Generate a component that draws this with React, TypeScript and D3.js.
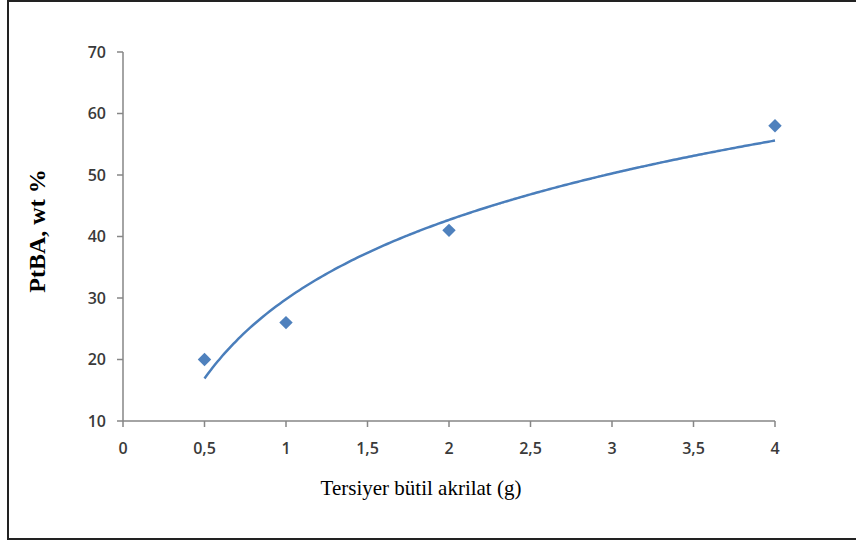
import React from "react";
import * as d3 from "d3";

const xValues = [0.5, 1, 2, 4];
const yValues = [20, 26, 41, 58];
const xTicks = [0, 0.5, 1, 1.5, 2, 2.5, 3, 3.5, 4];
const yTicks = [10, 20, 30, 40, 50, 60, 70];
const xTitle = "Tersiyer bütil akrilat (g)";
const yTitle = "PtBA, wt %";

const W = 856;
const H = 542;

export default function App() {
  const x = d3.scaleLinear().domain([0, 4]).range([123, 775]);
  const y = d3.scaleLinear().domain([10, 70]).range([421, 52]);

  // logarithmic least-squares trendline computed from the data
  const lx = xValues.map((v) => Math.log(v));
  const mx = d3.mean(lx) as number;
  const my = d3.mean(yValues) as number;
  const sxy = d3.sum(lx.map((v, i) => (v - mx) * (yValues[i] - my)));
  const sxx = d3.sum(lx.map((v) => (v - mx) * (v - mx)));
  const a = sxy / sxx;
  const b = my - a * mx;
  const xs = d3.range(0.5, 4.0001, 0.02);
  const line = d3
    .line<number>()
    .x((v) => x(v))
    .y((v) => y(a * Math.log(v) + b))
    .curve(d3.curveMonotoneX);

  const diamond = d3.symbol().type(d3.symbolDiamond2).size(115)();
  const axisColor = "#868686";
  const tickFont = "Open Sans, sans-serif";

  return (
    <svg
      width={W}
      height={H}
      style={{ position: "absolute", left: 0, top: 0, background: "#fff" }}
    >
      <rect x={8} y={1} width={W + 10} height={538} fill="#fff" stroke="#222" strokeWidth={2} />
      {/* y axis */}
      <line x1={x(0)} x2={x(0)} y1={y(70)} y2={y(10)} stroke={axisColor} strokeWidth={1.5} />
      {yTicks.map((t) => (
        <g key={"y" + t}>
          <line x1={x(0) - 6} x2={x(0)} y1={y(t)} y2={y(t)} stroke={axisColor} strokeWidth={1.5} />
          <text
            x={106}
            y={y(t)}
            dy="0.36em"
            textAnchor="end"
            fontFamily={tickFont}
            fontSize={16}
            fontWeight={600}
            fill="#3a3a3a"
          >
            {t}
          </text>
        </g>
      ))}
      {/* x axis */}
      <line x1={x(0)} x2={x(4)} y1={y(10)} y2={y(10)} stroke={axisColor} strokeWidth={1.5} />
      {xTicks.map((t) => (
        <g key={"x" + t}>
          <line x1={x(t)} x2={x(t)} y1={y(10)} y2={y(10) + 6} stroke={axisColor} strokeWidth={1.5} />
          <text
            x={x(t)}
            y={454}
            textAnchor="middle"
            fontFamily={tickFont}
            fontSize={16}
            fontWeight={600}
            fill="#3a3a3a"
          >
            {String(t).replace(".", ",")}
          </text>
        </g>
      ))}
      {/* trendline */}
      <path d={line(xs) || ""} fill="none" stroke="#4A7EBB" strokeWidth={2.5} />
      {/* points */}
      {xValues.map((v, i) => (
        <path
          key={"p" + i}
          d={diamond || ""}
          transform={`translate(${x(v)},${y(yValues[i])})`}
          fill="#4F81BD"
        />
      ))}
      {/* titles */}
      <text
        x={421}
        y={495}
        textAnchor="middle"
        fontFamily="Liberation Serif, Times New Roman, serif"
        fontSize={21}
        fill="#000"
      >
        {xTitle}
      </text>
      <text
        transform={`translate(45,231) rotate(-90)`}
        textAnchor="middle"
        fontFamily="Liberation Serif, Times New Roman, serif"
        fontSize={24}
        fontWeight="bold"
        fill="#000"
      >
        {yTitle}
      </text>
    </svg>
  );
}
